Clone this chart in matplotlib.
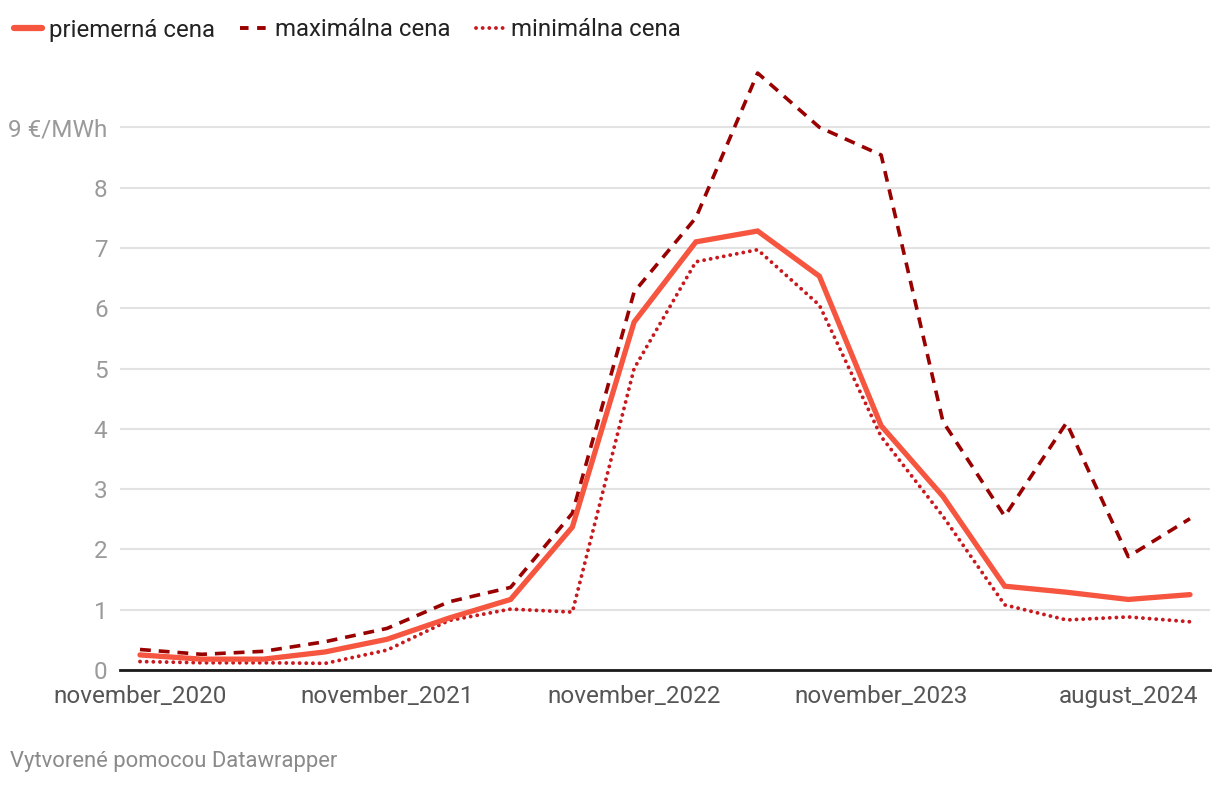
import matplotlib.pyplot as plt
from matplotlib.lines import Line2D

plt.rcParams['font.family'] = ['Roboto', 'DejaVu Sans']

# quarterly points, only some categories are labelled on the axis
tick_pos = [0, 4, 8, 12, 16]
tick_labels = ['november_2020', 'november_2021', 'november_2022',
               'november_2023', 'august_2024']

priemerna = [0.25, 0.18, 0.18, 0.30, 0.51, 0.86, 1.17, 2.37, 5.77,
             7.10, 7.28, 6.53, 4.05, 2.88, 1.39, 1.29, 1.17, 1.25]
maximalna = [0.34, 0.26, 0.31, 0.47, 0.69, 1.13, 1.37, 2.6, 6.27,
             7.5, 9.9, 9.0, 8.54, 4.12, 2.55, 4.1, 1.88, 2.51]
minimalna = [0.14, 0.12, 0.12, 0.11, 0.33, 0.82, 1.01, 0.96, 5.0,
             6.77, 6.97, 6.05, 3.87, 2.55, 1.08, 0.83, 0.88, 0.80]

c_avg = '#f6553f'
c_max = '#990000'
c_min = '#c8191e'

fig = plt.figure(figsize=(12.2, 7.86), dpi=100)
ax = fig.add_axes([120 / 1220, 1 - 670 / 786, 1090 / 1220, 603 / 786])

x = list(range(len(priemerna)))
ax.plot(x, maximalna, color=c_max, lw=2.6, linestyle=(0, (3.0, 2.2)),
        solid_joinstyle='miter', zorder=3)
ax.plot(x, minimalna, color=c_min, lw=2.8, linestyle=(0, (0.01, 1.7)),
        dash_capstyle='round', zorder=3)
ax.plot(x, priemerna, color=c_avg, lw=3.8, solid_joinstyle='miter',
        solid_capstyle='round', zorder=4)

ax.set_xlim(-0.324, 17.324)
ax.set_ylim(0, 10)

yt = list(range(10))
ax.set_yticks(yt)
ax.set_yticklabels([str(v) for v in yt[:-1]] + ['9 €/MWh'])
ax.yaxis.grid(True, color='#e2e2e2', lw=1.5)
ax.set_axisbelow(True)
ax.tick_params(axis='y', length=0, pad=9, labelsize=17.5, labelcolor='#9a9a9a')

ax.set_xticks(tick_pos)
ax.set_xticklabels(tick_labels)
ax.tick_params(axis='x', length=0, pad=11, labelsize=17.5, labelcolor='#555555')

for s in ['top', 'right', 'left']:
    ax.spines[s].set_visible(False)
ax.spines['bottom'].set_color('#1a1a1a')
ax.spines['bottom'].set_linewidth(2)
ax.spines['bottom'].set_zorder(5)

handles = [
    Line2D([], [], color=c_avg, lw=4.5, solid_capstyle='round'),
    Line2D([], [], color=c_max, lw=2.8, linestyle=(0, (2.2, 2.2))),
    Line2D([], [], color=c_min, lw=2.8, linestyle=(0, (0.01, 1.7)), dash_capstyle='round'),
]
fig.legend(handles, ['priemerná cena', 'maximálna cena', 'minimálna cena'],
           loc='center left', bbox_to_anchor=(0.0, 1 - 30 / 786), ncol=3,
           frameon=False, fontsize=17.3, handlelength=1.15, handletextpad=0.3,
           columnspacing=1.05, labelcolor='#222222', borderaxespad=0.4,
           borderpad=0.2)

fig.text(10 / 1220, 1 - 762 / 786, 'Vytvorené pomocou Datawrapper',
         fontsize=15.8, color='#8a8a8a', va='center', ha='left')

fig.savefig('out.png', dpi=100)
